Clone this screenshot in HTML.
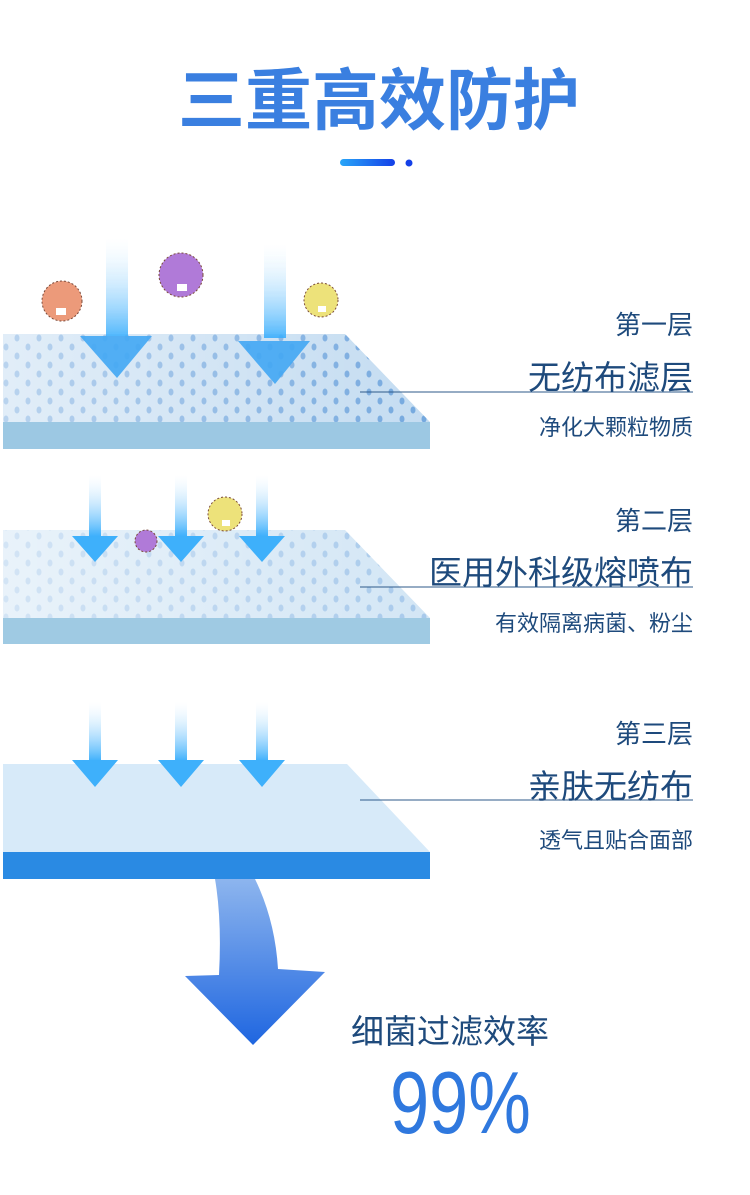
<!DOCTYPE html>
<html><head><meta charset="utf-8"><style>
html,body{margin:0;padding:0;background:#fff;width:750px;height:1195px;overflow:hidden}
.t{position:absolute;font-family:"Liberation Sans","Noto Sans CJK SC",sans-serif;white-space:nowrap}
</style></head><body>
<div style="position:relative;width:750px;height:1195px">
<svg width="750" height="1195" style="position:absolute;left:0;top:0">
<defs>
<linearGradient id="sh" x1="0" y1="0" x2="0" y2="1"><stop offset="0" stop-color="#fff" stop-opacity="0.2"/><stop offset="1" stop-color="#3aaefc"/></linearGradient>
<linearGradient id="bar" x1="0" y1="0" x2="1" y2="0"><stop offset="0" stop-color="#29a6f8"/><stop offset="1" stop-color="#1440e8"/></linearGradient>
<linearGradient id="big" x1="0" y1="0" x2="0" y2="1"><stop offset="0" stop-color="#8db5ee"/><stop offset="1" stop-color="#1f66e0"/></linearGradient>
<pattern id="dots" width="22" height="18" patternUnits="userSpaceOnUse"><ellipse cx="6" cy="5" rx="2.5" ry="3.5" fill="#3f86d2" opacity="0.6"/><ellipse cx="17" cy="14" rx="2.5" ry="3.5" fill="#3f86d2" opacity="0.6"/></pattern>
<linearGradient id="fade" x1="0" y1="0" x2="1" y2="0"><stop offset="0" stop-color="#fff" stop-opacity="0.5"/><stop offset="1" stop-color="#fff" stop-opacity="0"/></linearGradient>
</defs>
<rect x="340" y="159" width="55" height="7" rx="3.5" fill="url(#bar)"/>
<circle cx="409" cy="163" r="3.5" fill="#1440e8"/>

<polygon points="3,334 345,334 430,422 3,422" fill="#c4dcf1"/>
<polygon points="3,334 345,334 430,422 3,422" fill="url(#dots)"/>
<polygon points="3,334 345,334 430,422 3,422" fill="url(#fade)"/>
<rect x="3" y="422" width="427" height="27" fill="#9cc8e3"/>

<polygon points="3,530 345,530 430,618 3,618" fill="#d3e6f5"/>
<polygon points="3,530 345,530 430,618 3,618" fill="url(#dots)" opacity="0.5"/>
<polygon points="3,530 345,530 430,618 3,618" fill="url(#fade)"/>
<rect x="3" y="618" width="427" height="26" fill="#9fcae3"/>

<polygon points="3,764 347,764 430,852 3,852" fill="#d7eaf9"/>
<rect x="3" y="852" width="427" height="27" fill="#2a8ae3"/>

<g opacity="0.9">
<rect x="106" y="238" width="22" height="100" fill="url(#sh)"/>
<polygon points="80,336 152,336 117,378" fill="#43a8f4"/>
<rect x="264" y="244" width="22" height="94" fill="url(#sh)"/>
<polygon points="238,341 310,341 275,384" fill="#43a8f4"/>
</g>
<g>
<rect x="89" y="475" width="12" height="62" fill="url(#sh)"/><polygon points="72,536 118,536 95,562" fill="#3eb0fb"/>
<rect x="175" y="475" width="12" height="62" fill="url(#sh)"/><polygon points="158,536 204,536 181,562" fill="#3eb0fb"/>
<rect x="256" y="475" width="12" height="62" fill="url(#sh)"/><polygon points="239,536 285,536 262,562" fill="#3eb0fb"/>
</g>
<g>
<rect x="89" y="702" width="12" height="60" fill="url(#sh)"/><polygon points="72,760 118,760 95,787" fill="#3eb0fb"/>
<rect x="175" y="702" width="12" height="60" fill="url(#sh)"/><polygon points="158,760 204,760 181,787" fill="#3eb0fb"/>
<rect x="256" y="702" width="12" height="60" fill="url(#sh)"/><polygon points="239,760 285,760 262,787" fill="#3eb0fb"/>
</g>
<path d="M215,879 L255,879 Q275,920 278,969 L325,972 L253,1045 L185,976 L219,975 Q222,920 215,879 Z" fill="url(#big)"/>

<g stroke="#7a4a3a" stroke-width="1" stroke-dasharray="2 2">
<circle cx="62" cy="301" r="20" fill="#ec9a7a"/>
<circle cx="181" cy="275" r="22" fill="#b07ad8"/>
<circle cx="321" cy="300" r="17" fill="#ede27a"/>
<circle cx="225" cy="514" r="17" fill="#ede27a"/>
<circle cx="146" cy="541" r="11" fill="#b07ad8"/>
</g>
<g fill="#fff"><rect x="56" y="308" width="10" height="7"/><rect x="177" y="284" width="10" height="7"/><rect x="318" y="306" width="8" height="6"/><rect x="222" y="520" width="8" height="6"/></g>

<line x1="360" y1="392" x2="693" y2="392" stroke="#2d5a8a" stroke-width="1"/>
<line x1="360" y1="587" x2="693" y2="587" stroke="#2d5a8a" stroke-width="1"/>
<line x1="360" y1="800" x2="693" y2="800" stroke="#2d5a8a" stroke-width="1"/>
</svg>

<div class="t" style="left:178px;top:47px;font-size:67px;font-weight:bold;color:#3a7fe0">三重高效防护</div>

<div class="t" style="right:57px;top:305px;font-size:26px;color:#1e4a7c">第一层</div>
<div class="t" style="right:57px;top:351px;font-size:33px;color:#1e4a7c">无纺布滤层</div>
<div class="t" style="right:57px;top:410px;font-size:22px;color:#1e4a7c">净化大颗粒物质</div>

<div class="t" style="right:57px;top:501px;font-size:26px;color:#1e4a7c">第二层</div>
<div class="t" style="right:57px;top:546px;font-size:33px;color:#1e4a7c">医用外科级熔喷布</div>
<div class="t" style="right:57px;top:606px;font-size:22px;color:#1e4a7c">有效隔离病菌、粉尘</div>

<div class="t" style="right:57px;top:714px;font-size:26px;color:#1e4a7c">第三层</div>
<div class="t" style="right:57px;top:760px;font-size:33px;color:#1e4a7c">亲肤无纺布</div>
<div class="t" style="right:57px;top:823px;font-size:22px;color:#1e4a7c">透气且贴合面部</div>

<div class="t" style="left:351px;top:1005px;font-size:33px;color:#1e4a7c">细菌过滤效率</div>
<div class="t" style="left:390px;top:1052px;font-size:88px;color:#2f78de;transform:scaleX(0.8);transform-origin:0 0">99%</div>
</div>
</body></html>
